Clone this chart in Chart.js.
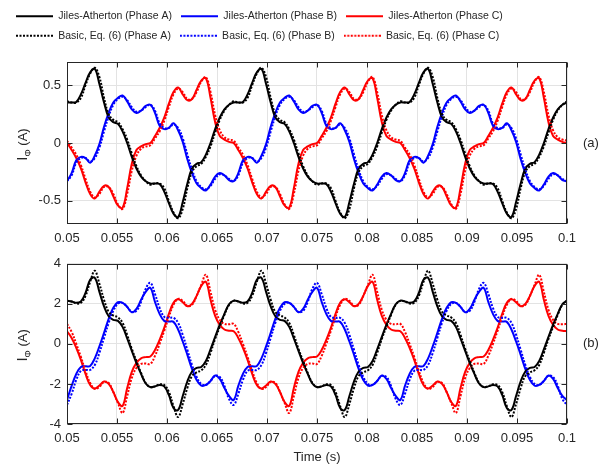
<!DOCTYPE html>
<html>
<head>
<meta charset="utf-8">
<script src="https://cdn.jsdelivr.net/npm/chart.js@4.4.1/dist/chart.umd.min.js"></script>
<style>
  html, body { margin: 0; padding: 0; background: #fff; }
  #wrap { position: relative; width: 609px; height: 468px; }
  canvas { position: absolute; left: 0; }
  #top { top: 0; }
  #bottom { top: 250px; }
</style>
</head>
<body>
<div id="wrap">
  <canvas id="top" width="609" height="250"></canvas>
  <canvas id="bottom" width="609" height="218"></canvas>
</div>
<script>
// sampling grid: 36 samples per 60 Hz cycle, 0.05 s .. 0.1 s
const time = Array.from({ length: 109 }, (_, i) => 0.05 + i / 2160);

const xTicks = [0.05, 0.055, 0.06, 0.065, 0.07, 0.075, 0.08, 0.085, 0.09, 0.095, 0.1];
const yTicksA = [-0.5, 0, 0.5];
const yTicksB = [-4, -2, 0, 2, 4];

const legendNames = [
  'Jiles-Atherton (Phase A)', 'Jiles-Atherton (Phase B)', 'Jiles-Atherton (Phase C)',
  'Basic, Eq. (6) (Phase A)', 'Basic, Eq. (6) (Phase B)', 'Basic, Eq. (6) (Phase C)',
];

// panel (a)
const aJilesA = [
  0.35, 0.35, 0.355, 0.42, 0.52, 0.61, 0.64, 0.51, 0.35, 0.22, 0.18, 0.165, 0.1, 0, -0.12, -0.22, -0.29, -0.33,
  -0.35, -0.35, -0.355, -0.42, -0.52, -0.61, -0.64, -0.51, -0.35, -0.22, -0.18, -0.165, -0.1, 0, 0.12, 0.22, 0.29, 0.33,
  0.35, 0.35, 0.355, 0.42, 0.52, 0.61, 0.64, 0.51, 0.35, 0.22, 0.18, 0.165, 0.1, 0, -0.12, -0.22, -0.29, -0.33,
  -0.35, -0.35, -0.355, -0.42, -0.52, -0.61, -0.64, -0.51, -0.35, -0.22, -0.18, -0.165, -0.1, 0, 0.12, 0.22, 0.29, 0.33,
  0.35, 0.35, 0.355, 0.42, 0.52, 0.61, 0.64, 0.51, 0.35, 0.22, 0.18, 0.165, 0.1, 0, -0.12, -0.22, -0.29, -0.33,
  -0.35, -0.35, -0.355, -0.42, -0.52, -0.61, -0.64, -0.51, -0.35, -0.22, -0.18, -0.165, -0.1, 0, 0.12, 0.22, 0.29, 0.33,
  0.35,
];
const aJilesB = [
  -0.33, -0.26, -0.15, -0.12, -0.13, -0.17, -0.11, -0.01, 0.14, 0.26, 0.35, 0.39, 0.41, 0.36, 0.29, 0.26, 0.28, 0.32,
  0.33, 0.26, 0.15, 0.12, 0.13, 0.17, 0.11, 0.01, -0.14, -0.26, -0.35, -0.39, -0.41, -0.36, -0.29, -0.26, -0.28, -0.32,
  -0.33, -0.26, -0.15, -0.12, -0.13, -0.17, -0.11, -0.01, 0.14, 0.26, 0.35, 0.39, 0.41, 0.36, 0.29, 0.26, 0.28, 0.32,
  0.33, 0.26, 0.15, 0.12, 0.13, 0.17, 0.11, 0.01, -0.14, -0.26, -0.35, -0.39, -0.41, -0.36, -0.29, -0.26, -0.28, -0.32,
  -0.33, -0.26, -0.15, -0.12, -0.13, -0.17, -0.11, -0.01, 0.14, 0.26, 0.35, 0.39, 0.41, 0.36, 0.29, 0.26, 0.28, 0.32,
  0.33, 0.26, 0.15, 0.12, 0.13, 0.17, 0.11, 0.01, -0.14, -0.26, -0.35, -0.39, -0.41, -0.36, -0.29, -0.26, -0.28, -0.32,
  -0.33,
];
const aJilesC = [
  0, -0.06, -0.13, -0.22, -0.34, -0.44, -0.48, -0.42, -0.37, -0.38, -0.46, -0.54, -0.56, -0.39, -0.18, -0.06, -0.03, -0.01,
  0, 0.06, 0.13, 0.22, 0.34, 0.44, 0.48, 0.42, 0.37, 0.38, 0.46, 0.54, 0.56, 0.39, 0.18, 0.06, 0.03, 0.01,
  0, -0.06, -0.13, -0.22, -0.34, -0.44, -0.48, -0.42, -0.37, -0.38, -0.46, -0.54, -0.56, -0.39, -0.18, -0.06, -0.03, -0.01,
  0, 0.06, 0.13, 0.22, 0.34, 0.44, 0.48, 0.42, 0.37, 0.38, 0.46, 0.54, 0.56, 0.39, 0.18, 0.06, 0.03, 0.01,
  0, -0.06, -0.13, -0.22, -0.34, -0.44, -0.48, -0.42, -0.37, -0.38, -0.46, -0.54, -0.56, -0.39, -0.18, -0.06, -0.03, -0.01,
  0, 0.06, 0.13, 0.22, 0.34, 0.44, 0.48, 0.42, 0.37, 0.38, 0.46, 0.54, 0.56, 0.39, 0.18, 0.06, 0.03, 0.01,
  0,
];
const aBasicA = [
  0.36, 0.35, 0.35, 0.39, 0.5, 0.6, 0.65, 0.57, 0.39, 0.25, 0.2, 0.18, 0.12, 0.03, -0.09, -0.2, -0.28, -0.33,
  -0.36, -0.35, -0.35, -0.39, -0.5, -0.6, -0.65, -0.57, -0.39, -0.25, -0.2, -0.18, -0.12, -0.03, 0.09, 0.2, 0.28, 0.33,
  0.36, 0.35, 0.35, 0.39, 0.5, 0.6, 0.65, 0.57, 0.39, 0.25, 0.2, 0.18, 0.12, 0.03, -0.09, -0.2, -0.28, -0.33,
  -0.36, -0.35, -0.35, -0.39, -0.5, -0.6, -0.65, -0.57, -0.39, -0.25, -0.2, -0.18, -0.12, -0.03, 0.09, 0.2, 0.28, 0.33,
  0.36, 0.35, 0.35, 0.39, 0.5, 0.6, 0.65, 0.57, 0.39, 0.25, 0.2, 0.18, 0.12, 0.03, -0.09, -0.2, -0.28, -0.33,
  -0.36, -0.35, -0.35, -0.39, -0.5, -0.6, -0.65, -0.57, -0.39, -0.25, -0.2, -0.18, -0.12, -0.03, 0.09, 0.2, 0.28, 0.33,
  0.36,
];
const aBasicB = [
  -0.33, -0.28, -0.17, -0.13, -0.13, -0.16, -0.13, -0.04, 0.1, 0.23, 0.33, 0.38, 0.4, 0.37, 0.31, 0.27, 0.28, 0.31,
  0.33, 0.28, 0.17, 0.13, 0.13, 0.16, 0.13, 0.04, -0.1, -0.23, -0.33, -0.38, -0.4, -0.37, -0.31, -0.27, -0.28, -0.31,
  -0.33, -0.28, -0.17, -0.13, -0.13, -0.16, -0.13, -0.04, 0.1, 0.23, 0.33, 0.38, 0.4, 0.37, 0.31, 0.27, 0.28, 0.31,
  0.33, 0.28, 0.17, 0.13, 0.13, 0.16, 0.13, 0.04, -0.1, -0.23, -0.33, -0.38, -0.4, -0.37, -0.31, -0.27, -0.28, -0.31,
  -0.33, -0.28, -0.17, -0.13, -0.13, -0.16, -0.13, -0.04, 0.1, 0.23, 0.33, 0.38, 0.4, 0.37, 0.31, 0.27, 0.28, 0.31,
  0.33, 0.28, 0.17, 0.13, 0.13, 0.16, 0.13, 0.04, -0.1, -0.23, -0.33, -0.38, -0.4, -0.37, -0.31, -0.27, -0.28, -0.31,
  -0.33,
];
const aBasicC = [
  0.02, -0.04, -0.1, -0.19, -0.31, -0.42, -0.47, -0.44, -0.38, -0.38, -0.44, -0.53, -0.57, -0.44, -0.24, -0.11, -0.05, -0.03,
  -0.02, 0.04, 0.1, 0.19, 0.31, 0.42, 0.47, 0.44, 0.38, 0.38, 0.44, 0.53, 0.57, 0.44, 0.24, 0.11, 0.05, 0.03,
  0.02, -0.04, -0.1, -0.19, -0.31, -0.42, -0.47, -0.44, -0.38, -0.38, -0.44, -0.53, -0.57, -0.44, -0.24, -0.11, -0.05, -0.03,
  -0.02, 0.04, 0.1, 0.19, 0.31, 0.42, 0.47, 0.44, 0.38, 0.38, 0.44, 0.53, 0.57, 0.44, 0.24, 0.11, 0.05, 0.03,
  0.02, -0.04, -0.1, -0.19, -0.31, -0.42, -0.47, -0.44, -0.38, -0.38, -0.44, -0.53, -0.57, -0.44, -0.24, -0.11, -0.05, -0.03,
  -0.02, 0.04, 0.1, 0.19, 0.31, 0.42, 0.47, 0.44, 0.38, 0.38, 0.44, 0.53, 0.57, 0.44, 0.24, 0.11, 0.05, 0.03,
  0.02,
];

// panel (b)
const bJilesA = [
  2.16, 2.12, 2.05, 2.12, 2.55, 3.2, 3.3, 2.6, 1.87, 1.38, 1.2, 1.15, 0.85, 0.27, -0.35, -0.96, -1.5, -1.98,
  -2.16, -2.12, -2.05, -2.12, -2.55, -3.2, -3.3, -2.6, -1.87, -1.38, -1.2, -1.15, -0.85, -0.27, 0.35, 0.96, 1.5, 1.98,
  2.16, 2.12, 2.05, 2.12, 2.55, 3.2, 3.3, 2.6, 1.87, 1.38, 1.2, 1.15, 0.85, 0.27, -0.35, -0.96, -1.5, -1.98,
  -2.16, -2.12, -2.05, -2.12, -2.55, -3.2, -3.3, -2.6, -1.87, -1.38, -1.2, -1.15, -0.85, -0.27, 0.35, 0.96, 1.5, 1.98,
  2.16, 2.12, 2.05, 2.12, 2.55, 3.2, 3.3, 2.6, 1.87, 1.38, 1.2, 1.15, 0.85, 0.27, -0.35, -0.96, -1.5, -1.98,
  -2.16, -2.12, -2.05, -2.12, -2.55, -3.2, -3.3, -2.6, -1.87, -1.38, -1.2, -1.15, -0.85, -0.27, 0.35, 0.96, 1.5, 1.98,
  2.16,
];
const bJilesB = [
  -2.8, -2.1, -1.5, -1.15, -1.12, -1.1, -0.72, -0.12, 0.55, 1.25, 1.8, 2.08, 2.05, 1.85, 1.58, 1.75, 2.2, 2.6,
  2.8, 2.1, 1.5, 1.15, 1.12, 1.1, 0.72, 0.12, -0.55, -1.25, -1.8, -2.08, -2.05, -1.85, -1.58, -1.75, -2.2, -2.6,
  -2.8, -2.1, -1.5, -1.15, -1.12, -1.1, -0.72, -0.12, 0.55, 1.25, 1.8, 2.08, 2.05, 1.85, 1.58, 1.75, 2.2, 2.6,
  2.8, 2.1, 1.5, 1.15, 1.12, 1.1, 0.72, 0.12, -0.55, -1.25, -1.8, -2.08, -2.05, -1.85, -1.58, -1.75, -2.2, -2.6,
  -2.8, -2.1, -1.5, -1.15, -1.12, -1.1, -0.72, -0.12, 0.55, 1.25, 1.8, 2.08, 2.05, 1.85, 1.58, 1.75, 2.2, 2.6,
  2.8, 2.1, 1.5, 1.15, 1.12, 1.1, 0.72, 0.12, -0.55, -1.25, -1.8, -2.08, -2.05, -1.85, -1.58, -1.75, -2.2, -2.6,
  -2.8,
];
const bJilesC = [
  0.63, 0.3, -0.2, -0.8, -1.5, -2.05, -2.23, -2.08, -1.88, -2.0, -2.4, -2.9, -3.1, -2.2, -1.4, -0.95, -0.72, -0.66,
  -0.63, -0.3, 0.2, 0.8, 1.5, 2.05, 2.23, 2.08, 1.88, 2.0, 2.4, 2.9, 3.1, 2.2, 1.4, 0.95, 0.72, 0.66,
  0.63, 0.3, -0.2, -0.8, -1.5, -2.05, -2.23, -2.08, -1.88, -2.0, -2.4, -2.9, -3.1, -2.2, -1.4, -0.95, -0.72, -0.66,
  -0.63, -0.3, 0.2, 0.8, 1.5, 2.05, 2.23, 2.08, 1.88, 2.0, 2.4, 2.9, 3.1, 2.2, 1.4, 0.95, 0.72, 0.66,
  0.63, 0.3, -0.2, -0.8, -1.5, -2.05, -2.23, -2.08, -1.88, -2.0, -2.4, -2.9, -3.1, -2.2, -1.4, -0.95, -0.72, -0.66,
  -0.63, -0.3, 0.2, 0.8, 1.5, 2.05, 2.23, 2.08, 1.88, 2.0, 2.4, 2.9, 3.1, 2.2, 1.4, 0.95, 0.72, 0.66,
  0.63,
];
const bBasicA = [
  2.15, 2.12, 2.02, 2.05, 2.4, 3.1, 3.65, 3.0, 2.2, 1.6, 1.42, 1.32, 1.05, 0.45, -0.25, -0.85, -1.45, -1.95,
  -2.15, -2.12, -2.02, -2.05, -2.4, -3.1, -3.65, -3.0, -2.2, -1.6, -1.42, -1.32, -1.05, -0.45, 0.25, 0.85, 1.45, 1.95,
  2.15, 2.12, 2.02, 2.05, 2.4, 3.1, 3.65, 3.0, 2.2, 1.6, 1.42, 1.32, 1.05, 0.45, -0.25, -0.85, -1.45, -1.95,
  -2.15, -2.12, -2.02, -2.05, -2.4, -3.1, -3.65, -3.0, -2.2, -1.6, -1.42, -1.32, -1.05, -0.45, 0.25, 0.85, 1.45, 1.95,
  2.15, 2.12, 2.02, 2.05, 2.4, 3.1, 3.65, 3.0, 2.2, 1.6, 1.42, 1.32, 1.05, 0.45, -0.25, -0.85, -1.45, -1.95,
  -2.15, -2.12, -2.02, -2.05, -2.4, -3.1, -3.65, -3.0, -2.2, -1.6, -1.42, -1.32, -1.05, -0.45, 0.25, 0.85, 1.45, 1.95,
  2.15,
];
const bBasicB = [
  -3.05, -2.5, -1.8, -1.35, -1.3, -1.3, -1.05, -0.45, 0.3, 1.05, 1.65, 2.0, 2.05, 1.85, 1.6, 1.65, 2.1, 2.75,
  3.05, 2.5, 1.8, 1.35, 1.3, 1.3, 1.05, 0.45, -0.3, -1.05, -1.65, -2.0, -2.05, -1.85, -1.6, -1.65, -2.1, -2.75,
  -3.05, -2.5, -1.8, -1.35, -1.3, -1.3, -1.05, -0.45, 0.3, 1.05, 1.65, 2.0, 2.05, 1.85, 1.6, 1.65, 2.1, 2.75,
  3.05, 2.5, 1.8, 1.35, 1.3, 1.3, 1.05, 0.45, -0.3, -1.05, -1.65, -2.0, -2.05, -1.85, -1.6, -1.65, -2.1, -2.75,
  -3.05, -2.5, -1.8, -1.35, -1.3, -1.3, -1.05, -0.45, 0.3, 1.05, 1.65, 2.0, 2.05, 1.85, 1.6, 1.65, 2.1, 2.75,
  3.05, 2.5, 1.8, 1.35, 1.3, 1.3, 1.05, 0.45, -0.3, -1.05, -1.65, -2.0, -2.05, -1.85, -1.6, -1.65, -2.1, -2.75,
  -3.05,
];
const bBasicC = [
  1.0, 0.6, 0, -0.65, -1.35, -1.95, -2.25, -2.15, -1.9, -1.95, -2.4, -2.95, -3.45, -2.6, -1.7, -1.2, -1.0, -0.98,
  -1.0, -0.6, 0, 0.65, 1.35, 1.95, 2.25, 2.15, 1.9, 1.95, 2.4, 2.95, 3.45, 2.6, 1.7, 1.2, 1.0, 0.98,
  1.0, 0.6, 0, -0.65, -1.35, -1.95, -2.25, -2.15, -1.9, -1.95, -2.4, -2.95, -3.45, -2.6, -1.7, -1.2, -1.0, -0.98,
  -1.0, -0.6, 0, 0.65, 1.35, 1.95, 2.25, 2.15, 1.9, 1.95, 2.4, 2.95, 3.45, 2.6, 1.7, 1.2, 1.0, 0.98,
  1.0, 0.6, 0, -0.65, -1.35, -1.95, -2.25, -2.15, -1.9, -1.95, -2.4, -2.95, -3.45, -2.6, -1.7, -1.2, -1.0, -0.98,
  -1.0, -0.6, 0, 0.65, 1.35, 1.95, 2.25, 2.15, 1.9, 1.95, 2.4, 2.95, 3.45, 2.6, 1.7, 1.2, 1.0, 0.98,
  1.0,
];

const colors = ['#000000', '#0000ff', '#ff0000'];
const ink = '#262626';
const FONT = '"Liberation Sans", Arial, Helvetica, sans-serif';
const DOTS = [2, 1.5];

Chart.defaults.font.family = FONT;
Chart.defaults.color = ink;

// small line sample used as the legend marker (keeps the dash pattern)
function legendSwatch(color, dotted) {
  const c = document.createElement('canvas');
  c.width = 37;
  c.height = 4;
  const g = c.getContext('2d');
  g.strokeStyle = color;
  g.lineWidth = 2;
  g.setLineDash(dotted ? DOTS : []);
  g.beginPath();
  g.moveTo(0, 2);
  g.lineTo(37, 2);
  g.stroke();
  return c;
}

function line(i, data) {
  const dotted = i >= 3;
  return {
    label: legendNames[i],
    data,
    borderColor: colors[i % 3],
    backgroundColor: colors[i % 3],
    borderWidth: 2,
    borderDash: dotted ? DOTS : [],
    pointRadius: 0,
    pointStyle: legendSwatch(colors[i % 3], dotted),
    tension: 0.4,
    order: dotted ? 0 : 1,
  };
}

// frame, inner tick marks, y title with subscript, panel tag
const decor = {
  id: 'decor',
  afterDraw(chart, args, opts) {
    const { ctx, chartArea: a, scales: { x, y } } = chart;
    const L = Math.round(a.left) + 0.5, R = Math.round(a.right) - 0.5;
    const T = Math.round(a.top) + 0.5, B = Math.round(a.bottom) - 0.5;
    ctx.save();
    ctx.strokeStyle = ink;
    ctx.lineWidth = 1;
    ctx.beginPath();
    xTicks.forEach(v => {
      const px = Math.round(x.getPixelForValue(v)) + 0.5;
      ctx.moveTo(px, B); ctx.lineTo(px, B - 5);
      ctx.moveTo(px, T); ctx.lineTo(px, T + 5);
    });
    opts.yTicks.forEach(v => {
      const py = Math.round(y.getPixelForValue(v)) + 0.5;
      ctx.moveTo(L, py); ctx.lineTo(L + 5, py);
      ctx.moveTo(R, py); ctx.lineTo(R - 5, py);
    });
    ctx.stroke();
    ctx.strokeRect(L, T, R - L, B - T);

    const cy = (a.top + a.bottom) / 2 + 1.5;
    ctx.fillStyle = ink;
    ctx.translate(27, cy);
    ctx.rotate(-Math.PI / 2);
    ctx.textBaseline = 'alphabetic';
    ctx.textAlign = 'left';
    ctx.font = '15px ' + FONT;
    const wI = ctx.measureText('I').width;
    ctx.font = '9px ' + FONT;
    const wP = ctx.measureText('Φ').width;
    ctx.font = '13px ' + FONT;
    const wA = ctx.measureText(' (A)').width;
    let tx = -(wI + wP + wA) / 2;
    ctx.font = '15px ' + FONT;
    ctx.fillText('I', tx, 0);
    tx += wI;
    ctx.font = '9px ' + FONT;
    ctx.fillText('Φ', tx, 4);
    tx += wP;
    ctx.font = '13px ' + FONT;
    ctx.fillText(' (A)', tx, 0);
    ctx.restore();

    ctx.save();
    ctx.fillStyle = ink;
    ctx.font = '13px ' + FONT;
    ctx.textBaseline = 'middle';
    ctx.fillText(opts.tag, 583, (a.top + a.bottom) / 2);
    ctx.restore();
  },
};

const legendGap = {
  id: 'legendGap',
  beforeInit(chart) {
    const fit = chart.legend.fit;
    chart.legend.fit = function () {
      fit.call(this);
      this.height += 11;
    };
  },
};

function makeChart(id, series, yMin, yMax, yTicks, tag, isTop) {
  return new Chart(document.getElementById(id), {
    type: 'line',
    data: {
      labels: time,
      datasets: series.map((d, i) => line(i, d)),
    },
    options: {
      responsive: false,
      animation: false,
      events: [],
      layout: { padding: isTop ? { left: 7, top: 2, right: 42, bottom: 0 } : { left: 7, top: 10, right: 42, bottom: 0 } },
      scales: {
        x: {
          type: 'linear',
          min: 0.05,
          max: 0.1,
          afterBuildTicks: s => { s.ticks = xTicks.map(v => ({ value: v })); },
          afterFit: s => { s.height = isTop ? 26 : 44; },
          ticks: { autoSkip: false, maxRotation: 0, padding: 7, font: { size: 13 }, color: ink, callback: v => String(v) },
          grid: { color: '#e3e3e3', drawTicks: false },
          border: { display: false },
          title: isTop ? { display: false } : { display: true, text: 'Time (s)', font: { size: 13 }, color: ink, padding: { top: 4, bottom: 3 } },
        },
        y: {
          min: yMin,
          max: yMax,
          afterBuildTicks: s => { s.ticks = yTicks.map(v => ({ value: v })); },
          afterFit: s => { s.width = 60; },
          ticks: { padding: 6, font: { size: 13 }, color: ink, callback: v => String(v) },
          grid: { color: '#e3e3e3', drawTicks: false },
          border: { display: false },
        },
      },
      plugins: {
        tooltip: { enabled: false },
        legend: {
          display: isTop,
          position: 'top',
          align: 'start',
          labels: {
            usePointStyle: true,
            pointStyleWidth: 37,
            padding: 9,
            color: ink,
            font: { size: 10.5 },
            sort: (a, b) => a.datasetIndex - b.datasetIndex,
          },
        },
        decor: { yTicks, tag },
      },
    },
    plugins: isTop ? [decor, legendGap] : [decor],
  });
}

makeChart('top', [aJilesA, aJilesB, aJilesC, aBasicA, aBasicB, aBasicC], -0.7, 0.7, yTicksA, '(a)', true);
makeChart('bottom', [bJilesA, bJilesB, bJilesC, bBasicA, bBasicB, bBasicC], -4, 4, yTicksB, '(b)', false);
</script>
</body>
</html>
